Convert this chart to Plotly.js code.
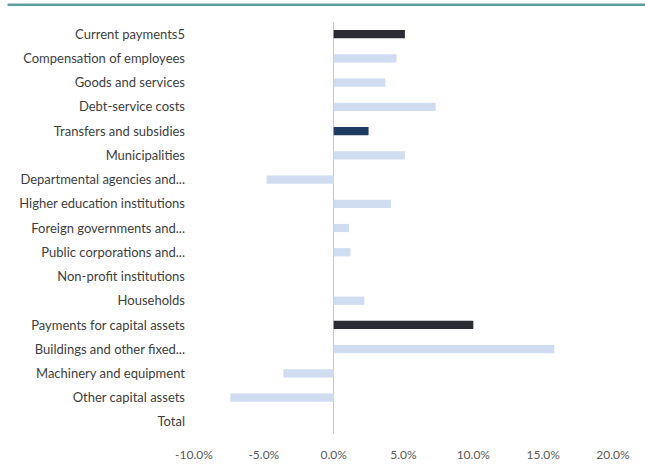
<!DOCTYPE html>
<html>
<head>
<meta charset="utf-8">
<script src="https://cdn.plot.ly/plotly-3.0.1.min.js"></script>
<style>html,body{margin:0;padding:0;background:#fff;}#chart{width:645px;height:468px;}</style>
</head>
<body>
<div id="chart"></div>
<script>
const categories = [
  "Current payments5",
  "Compensation of employees",
  "Goods and services",
  "Debt-service costs",
  "Transfers and subsidies",
  "Municipalities",
  "Departmental agencies and...",
  "Higher education institutions",
  "Foreign governments and...",
  "Public corporations and...",
  "Non-profit institutions",
  "Households",
  "Payments for capital assets",
  "Buildings and other fixed...",
  "Machinery and equipment",
  "Other capital assets",
  "Total"
];
const growthPct = [5.1, 4.5, 3.7, 7.3, 2.5, 5.1, -4.8, 4.1, 1.1, 1.2, 0, 2.2, 10.0, 15.8, -3.6, -7.4, 0];
const barColors = ["#2b2b33", "#d0dcf0", "#d0dcf0", "#d0dcf0", "#1f3b60", "#d0dcf0", "#d0dcf0", "#d0dcf0",
  "#d0dcf0", "#d0dcf0", "#d0dcf0", "#d0dcf0", "#2b2b33", "#d0dcf0", "#d0dcf0", "#d0dcf0", "#d0dcf0"];
const xTickVals = [-10, -5, 0, 5, 10, 15, 20];
const xTickText = ["-10.0%", "-5.0%", "0.0%", "5.0%", "10.0%", "15.0%", "20.0%"];

const trace = {
  type: "bar",
  orientation: "h",
  x: growthPct,
  y: categories,
  marker: { color: barColors, line: { width: 0 } },
  hoverinfo: "x+y"
};

const layout = {
  width: 645, height: 468,
  margin: { l: 194, r: 32, t: 22, b: 34 },
  paper_bgcolor: "#ffffff", plot_bgcolor: "#ffffff",
  showlegend: false,
  bargap: 0.66,
  font: { family: "Lato, 'Open Sans', sans-serif", color: "#404040", size: 13 },
  xaxis: {
    range: [-10, 20],
    tickvals: xTickVals, ticktext: xTickText,
    showgrid: false, zeroline: true, zerolinecolor: "#c8c8c8", zerolinewidth: 1.5,
    showline: false, ticks: "",
    tickfont: { size: 12, color: "#595959" },
    ticklabelstandoff: 12,
    fixedrange: true
  },
  yaxis: {
    type: "category",
    autorange: "reversed",
    showgrid: false, zeroline: false, showline: false, ticks: "",
    tickfont: { size: 13, color: "#404040" },
    ticklabelstandoff: 8,
    automargin: false,
    fixedrange: true
  },
  shapes: [
    { type: "line", xref: "paper", yref: "paper", x0: -0.445, x1: 1.08, y0: 1.042, y1: 1.042,
      line: { color: "#5a9ea0", width: 2.5 } }
  ]
};

Plotly.newPlot("chart", [trace], layout, { displayModeBar: false, staticPlot: true });
</script>
</body>
</html>
